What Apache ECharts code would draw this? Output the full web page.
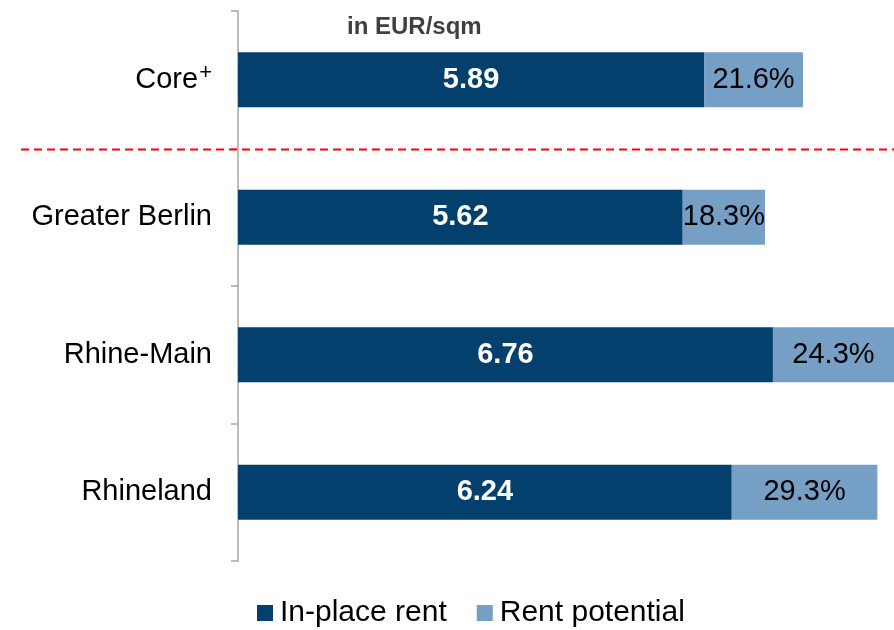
<!DOCTYPE html>
<html>
<head>
<meta charset="utf-8">
<script src="https://cdn.jsdelivr.net/npm/echarts@6/dist/echarts.min.js"></script>
<style>
  html, body { margin: 0; padding: 0; background: #fff; }
  #chart { width: 894px; height: 630px; }
</style>
</head>
<body>
<div id="chart"></div>
<script>
  const regions = ["Core+", "Greater Berlin", "Rhine-Main", "Rhineland"];
  const inPlaceRent = [5.89, 5.62, 6.76, 6.24];
  const rentPotential = [1.25, 1.04, 1.64, 1.84];
  const potentialLabels = ["21.6%", "18.3%", "24.3%", "29.3%"];

  const colors = { inPlace: "#03406e", potential: "#769fc5" };
  const font = "Liberation Sans, Arial, sans-serif";

  const chart = echarts.init(document.getElementById("chart"), null, { renderer: "canvas" });

  // "Core+" is written with a raised plus sign
  function regionLabel(name) {
    if (name.endsWith("+")) return `{base|${name.slice(0, -1)}}{sup|+}`;
    return `{base|${name}}`;
  }

  chart.setOption({
    animation: false,
    textStyle: { fontFamily: font },
    title: {
      text: "in EUR/sqm",
      left: 342,
      top: 10,
      textStyle: { fontSize: 24, fontWeight: "bold", color: "#404040", fontFamily: font }
    },
    legend: {
      bottom: 2,
      left: 257,
      padding: 0,
      icon: "rect",
      itemWidth: 16,
      itemHeight: 16,
      itemGap: 30,
      textStyle: { fontSize: 30, color: "#000", fontFamily: font, padding: [0, 0, 0, 2] },
      data: ["In-place rent", "Rent potential"]
    },
    grid: { left: 238, right: 0, top: 11, bottom: 69, containLabel: false },
    xAxis: {
      type: "value",
      min: 0,
      max: 8.29,
      show: false
    },
    yAxis: {
      type: "category",
      inverse: true,
      data: regions,
      axisLine: { show: true, lineStyle: { color: "#a6a6a6", width: 1.5 } },
      axisTick: { show: true, length: 7, lineStyle: { color: "#a6a6a6", width: 1.5 } },
      axisLabel: {
        margin: 26,
        formatter: regionLabel,
        rich: {
          base: { fontSize: 29, color: "#000", fontFamily: font },
          sup: { fontSize: 22, color: "#000", fontFamily: font, verticalAlign: "top", padding: [0, 0, 14, 1] }
        }
      }
    },
    series: [
      {
        name: "In-place rent",
        type: "bar",
        stack: "rent",
        barWidth: 55,
        data: inPlaceRent,
        itemStyle: { color: colors.inPlace },
        label: {
          show: true,
          position: "inside",
          color: "#fff",
          fontSize: 29,
          fontWeight: "bold",
          fontFamily: font,
          formatter: (p) => p.value.toFixed(2)
        }
      },
      {
        name: "Rent potential",
        type: "bar",
        stack: "rent",
        barWidth: 55,
        data: rentPotential,
        itemStyle: { color: colors.potential },
        label: {
          show: true,
          position: "inside",
          color: "#000",
          fontSize: 29,
          fontFamily: font,
          formatter: (p) => potentialLabels[p.dataIndex]
        }
      }
    ]
  });

  // dashed separator between Core+ and the regions
  const y0 = chart.convertToPixel({ yAxisIndex: 0 }, regions[0]);
  const y1 = chart.convertToPixel({ yAxisIndex: 0 }, regions[1]);
  const sepY = Math.round((y0 + y1) / 2) + 0.5;
  chart.setOption({
    graphic: [
      {
        type: "line",
        shape: { x1: 21, y1: sepY, x2: 894, y2: sepY },
        style: { stroke: "#ff0000", lineWidth: 2, lineDash: [8, 5] },
        z: 10
      }
    ]
  });
</script>
</body>
</html>
